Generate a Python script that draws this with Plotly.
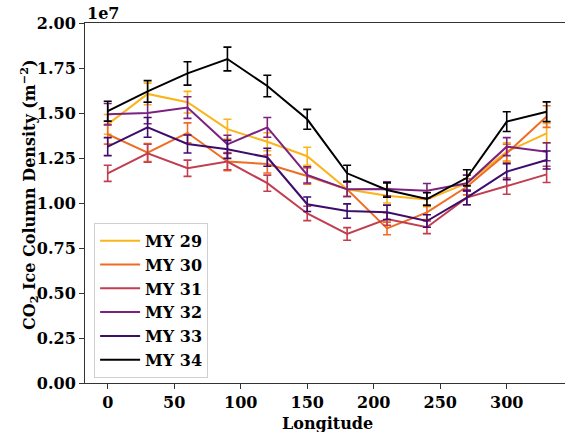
import plotly.graph_objects as go

longitude = [0, 30, 60, 90, 120, 150, 180, 210, 240, 270, 300, 330]
series_names = ["MY 29", "MY 30", "MY 31", "MY 32", "MY 33", "MY 34"]
colors = ["#fbb41a", "#ef6c23", "#c13e51", "#7b2280", "#3d0c6c", "#000004"]

# values in units of 1e7 m^-2
my29 = [1.437, 1.606, 1.560, 1.410, 1.340, 1.260, 1.076, 1.040, 1.020, 1.110, 1.285, 1.387]
my30 = [1.382, 1.280, 1.390, 1.230, 1.217, 1.150, 1.076, 0.859, 0.948, 1.090, 1.276, 1.480]
my31 = [1.165, 1.276, 1.193, 1.230, 1.110, 0.942, 0.828, 0.911, 0.865, 1.030, 1.094, 1.159]
my32 = [1.493, 1.500, 1.530, 1.326, 1.420, 1.156, 1.076, 1.078, 1.068, 1.110, 1.313, 1.285]
my33 = [1.313, 1.420, 1.328, 1.298, 1.254, 0.993, 0.955, 0.948, 0.900, 1.030, 1.174, 1.239]
my34 = [1.510, 1.620, 1.720, 1.800, 1.650, 1.465, 1.165, 1.072, 1.022, 1.140, 1.452, 1.507]

err29 = [0.055, 0.060, 0.060, 0.055, 0.050, 0.050, 0.040, 0.040, 0.040, 0.045, 0.050, 0.055]
err30 = [0.055, 0.050, 0.055, 0.050, 0.050, 0.045, 0.040, 0.035, 0.040, 0.045, 0.050, 0.060]
err31 = [0.045, 0.050, 0.045, 0.045, 0.045, 0.040, 0.035, 0.035, 0.035, 0.040, 0.045, 0.045]
err32 = [0.060, 0.060, 0.060, 0.050, 0.055, 0.045, 0.040, 0.040, 0.040, 0.045, 0.050, 0.050]
err33 = [0.050, 0.055, 0.050, 0.050, 0.050, 0.040, 0.040, 0.040, 0.035, 0.040, 0.045, 0.050]
err34 = [0.055, 0.060, 0.065, 0.066, 0.060, 0.055, 0.045, 0.040, 0.035, 0.045, 0.055, 0.055]

values = [my29, my30, my31, my32, my33, my34]
errors = [err29, err30, err31, err32, err33, err34]

y_ticks = [0.0, 0.25, 0.5, 0.75, 1.0, 1.25, 1.5, 1.75, 2.0]
x_ticks = [0, 50, 100, 150, 200, 250, 300]

FONT = "DejaVu Serif"

fig = go.Figure()
for name, col, v, e in zip(series_names, colors, values, errors):
    fig.add_trace(go.Scatter(
        x=longitude, y=v, name=name, mode="lines",
        line=dict(color=col, width=2),
        error_y=dict(type="data", array=e, visible=True, color=col, thickness=1.6, width=4),
    ))

axis_common = dict(
    showgrid=False, zeroline=False, showline=True, linecolor="#333", linewidth=1,
    ticks="outside", ticklen=5, tickwidth=1, tickcolor="#333", automargin=False,
    tickfont=dict(family=FONT, size=16, color="black", weight="bold"),
)

fig.update_layout(
    width=565, height=432,
    margin=dict(l=85, r=0, t=23, b=49, autoexpand=False),
    plot_bgcolor="white", paper_bgcolor="white",
    xaxis=dict(range=[-17.07, 343.8], tickvals=x_ticks, mirror=True, **axis_common),
    yaxis=dict(range=[0, 2.0], tickvals=y_ticks, tickformat=".2f", mirror=False, **axis_common),
    showlegend=True,
    legend=dict(
        x=0.019, y=0.445, xanchor="left", yanchor="top",
        bgcolor="rgba(255,255,255,0.8)", bordercolor="#d0d0d0", borderwidth=1,
        font=dict(family=FONT, size=16, color="black", weight="bold"),
        itemwidth=40,
    ),
    annotations=[
        dict(text="1e7", x=0, y=1.0, xref="paper", yref="paper", xanchor="left", yanchor="bottom",
             showarrow=False, font=dict(family=FONT, size=16, color="black", weight="bold"), yshift=-2),
        dict(text="Longitude", x=(327 - 85) / 480, y=0, xref="paper", yref="paper",
             xanchor="center", yanchor="top", yshift=-29, showarrow=False,
             font=dict(family=FONT, size=16, color="black", weight="bold")),
        dict(text="CO<sub>2</sub> Ice Column Density (m<sup>\u22122</sup>)", textangle=-90,
             x=0, y=0.5, xref="paper", yref="paper", xanchor="center", yanchor="middle",
             xshift=-56, yshift=8, showarrow=False,
             font=dict(family=FONT, size=16, color="black", weight="bold")),
    ],
)

fig.write_html("out.html", config={"displayModeBar": False},
               post_script="document.body.style.margin='0';document.body.style.overflow='hidden';")
